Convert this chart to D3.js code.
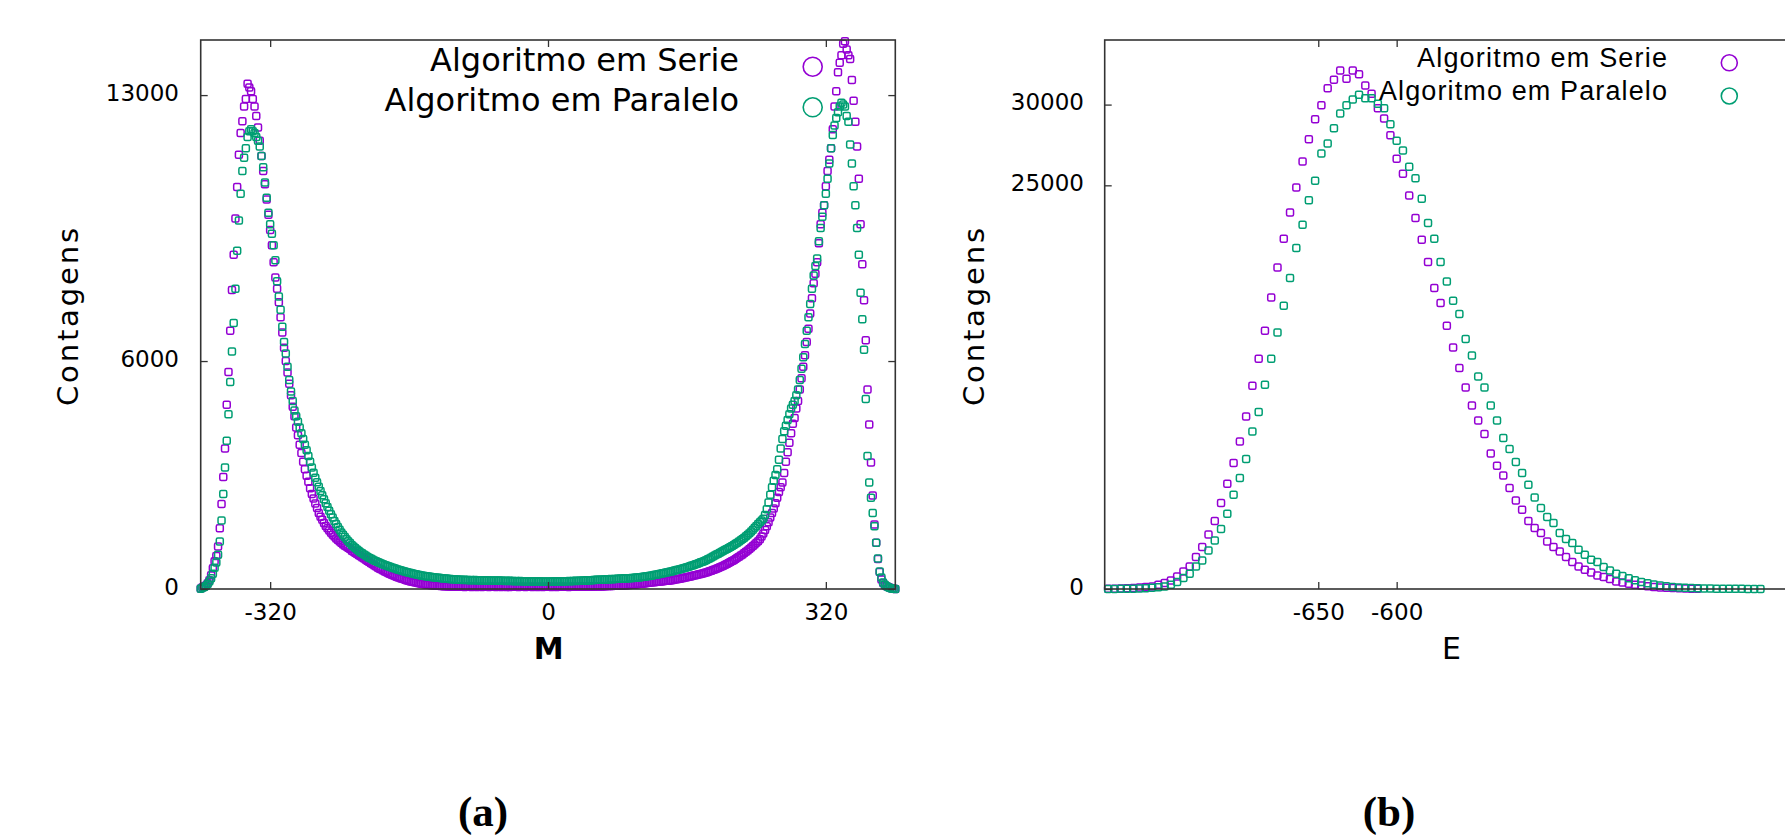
<!DOCTYPE html>
<html>
<head>
<meta charset="utf-8">
<script src="https://cdn.jsdelivr.net/npm/d3@7"></script>
<style>
  body { margin: 0; background: #fff; }
  svg { display: block; }
</style>
</head>
<body>
<script>
// ---- (a) histogram of magnetisation M, counts per M (step 2, from -400 to 400)
const magValues = d3.range(-400, 401, 2);
const magSerie = [
  10, 47, 70, 95, 150, 230, 360, 545, 730, 870,             // -400
  1120, 1600, 2240, 2950, 3700, 4850, 5710, 6800, 7870, 8800,
  9750, 10580, 11430, 12000, 12310, 12700, 12900, 13300, 13200, 13100,
  12900, 12700, 12450, 12150, 11800, 11400, 11000, 10650, 10250, 9850,
  9450, 9050, 8600, 8200, 7900, 7550, 7150, 6750, 6350, 6000, // -320
  5700, 5400, 5100, 4800, 4550, 4250, 4050, 3800, 3580, 3350,
  3150, 2980, 2820, 2650, 2500, 2380, 2250, 2130, 2000, 1900,
  1820, 1740, 1660, 1600, 1540, 1480, 1430, 1380, 1330, 1290,
  1250, 1210, 1170, 1140, 1110, 1080, 1050, 1010, 980, 950,   // -240
  920, 890, 860, 830, 800, 770, 740, 710, 680, 650,
  620, 590, 560, 535, 510, 485, 460, 440, 415, 395,
  375, 355, 335, 315, 300, 285, 270, 255, 240, 225,
  212, 200, 190, 178, 168, 158, 150, 140, 132, 125,           // -160
  118, 112, 106, 100, 96, 91, 87, 84, 80, 77,
  74, 72, 70, 68, 66, 64, 63, 62, 60, 59,
  58, 62, 55, 60, 57, 64, 52, 59, 61, 55,
  57, 60, 53, 62, 56, 58, 54, 61, 57, 59,                     // -80
  55, 60, 58, 52, 63, 57, 55, 60, 54, 58,
  61, 56, 58, 53, 60, 57, 62, 55, 58, 56,
  59, 54, 61, 57, 55, 60, 58, 53, 62, 56,
  60, 57, 55, 61, 58, 54, 60, 57, 63, 56,                     // 0
  58, 61, 55, 59, 57, 62, 56, 60, 58, 63,
  59, 64, 60, 66, 62, 65, 68, 64, 70, 67,
  72, 69, 75, 73, 78, 76, 82, 80, 86, 84,
  90, 88, 95, 93, 100, 98, 106, 104, 112, 110,                // 80
  120, 125, 130, 135, 140, 146, 152, 158, 164, 170,
  175, 180, 185, 190, 195, 200, 205, 210, 215, 220,
  225, 232, 240, 248, 256, 264, 272, 281, 290, 300,
  310, 320, 331, 342, 353, 364, 375, 386, 397, 408,           // 160
  420, 435, 450, 465, 480, 498, 516, 535, 555, 575,
  595, 615, 635, 660, 685, 710, 735, 760, 790, 820,
  850, 880, 910, 945, 980, 1015, 1050, 1090, 1130, 1170,
  1215, 1260, 1310, 1380, 1460, 1550, 1650, 1760, 1880, 2000, // 240
  2120, 2260, 2400, 2550, 2680, 2800, 3050, 3350, 3600, 3850,
  4100, 4350, 4500, 4750, 4950, 5250, 5550, 5850, 6150, 6500,
  6850, 7250, 7650, 8050, 8300, 8600, 9100, 9600, 9900, 10100,
  10600, 11000, 11300, 11600, 12100, 12700, 13100, 13600, 13850, 14050, // 320
  14350, 14420, 14200, 14050, 13950, 13400, 12850, 12300, 11650, 10800,
  9600, 8550, 7600, 6550, 5250, 4330, 3330, 2460, 1700, 1220,
  790, 450, 250, 160, 100, 70, 50, 30, 15, 8,
  0
];
const magParalelo = [
  5, 30, 50, 80, 130, 200, 280, 400, 560, 700,              // -400
  900, 1250, 1800, 2500, 3200, 3900, 4600, 5450, 6250, 7000,
  7900, 8900, 9700, 10400, 11000, 11350, 11600, 11900, 12050, 12100,
  12050, 12000, 11900, 11800, 11650, 11400, 11100, 10700, 10300, 9900,
  9600, 9350, 9050, 8650, 8100, 7700, 7350, 6900, 6500, 6200, // -320
  5850, 5500, 5200, 4950, 4700, 4550, 4400, 4250, 4100, 3950,
  3800, 3650, 3500, 3350, 3200, 3060, 2930, 2810, 2690, 2580,
  2470, 2360, 2260, 2160, 2060, 1970, 1880, 1790, 1710, 1630,
  1560, 1490, 1430, 1370, 1310, 1260, 1210, 1160, 1120, 1080, // -240
  1040, 1005, 970, 940, 910, 880, 850, 825, 800, 775,
  750, 730, 710, 690, 670, 652, 634, 617, 600, 584,
  568, 553, 538, 523, 509, 495, 481, 468, 455, 442,
  430, 418, 407, 396, 386, 376, 367, 358, 350, 342,           // -160
  335, 328, 321, 315, 309, 303, 298, 293, 288, 283,
  278, 274, 270, 266, 262, 258, 255, 252, 249, 246,
  243, 238, 245, 236, 240, 232, 238, 229, 235, 230,
  233, 226, 231, 224, 229, 222, 227, 220, 225, 218,           // -80
  223, 216, 221, 214, 219, 212, 217, 210, 215, 208,
  213, 206, 211, 204, 209, 202, 207, 200, 205, 198,
  203, 197, 202, 196, 201, 195, 200, 194, 199, 193,
  198, 194, 200, 195, 201, 196, 203, 198, 205, 200,           // 0
  207, 202, 210, 205, 213, 208, 216, 211, 220, 215,
  224, 219, 228, 224, 233, 229, 238, 235, 244, 241,
  245, 243, 250, 248, 255, 253, 260, 258, 265, 263,
  270, 268, 275, 273, 280, 278, 285, 284, 290, 290,           // 80
  295, 300, 305, 310, 316, 322, 328, 335, 342, 350,
  358, 366, 375, 384, 393, 402, 412, 422, 432, 442,
  452, 463, 474, 485, 497, 509, 521, 534, 547, 560,
  574, 588, 603, 618, 634, 650, 667, 684, 702, 720,           // 160
  740, 760, 782, 805, 830, 855, 880, 905, 930, 955,
  980, 1005, 1030, 1055, 1080, 1105, 1130, 1160, 1190, 1220,
  1250, 1280, 1315, 1350, 1390, 1430, 1470, 1515, 1560, 1610,
  1660, 1710, 1760, 1800, 1850, 1950, 2100, 2280, 2480, 2680, // 240
  2850, 3000, 3150, 3400, 3700, 3950, 4150, 4300, 4450, 4600,
  4750, 4850, 4950, 5100, 5250, 5500, 5800, 6100, 6450, 6800,
  7150, 7500, 7900, 8250, 8500, 8700, 9150, 9500, 9800, 10100,
  10400, 10800, 11200, 11600, 11950, 12200, 12400, 12550, 12700, 12800, // 320
  12750, 12700, 12450, 12300, 11700, 11200, 10600, 10100, 9500, 8800,
  7800, 7100, 6300, 5000, 3500, 2800, 2400, 2000, 1650, 1220,
  800, 460, 300, 170, 110, 70, 45, 25, 12, 5,
  0
];
const magTicks = [-320, 0, 320];
const magCountTicks = [0, 6000, 13000];

// ---- (b) histogram of energy E, counts per E (step 4)
const energySerieValues = d3.range(-784, -407, 4);
const energySerie = [
  8, 15, 25, 40, 60, 90, 120, 161, 266, 371,                  // -784
  532, 780, 1090, 1399, 1981, 2600, 3380, 4210, 5324, 6519,   // -744
  7801, 9138, 10686, 12586, 14258, 16000, 18053, 19910, 21687, 23315,
  24863, 26473, 27860, 29098, 29964, 31017, 31531, 32106, 31593, 32106, // -664
  31884, 31178, 30664, 29779, 29135, 28107, 26640, 25711, 24368, 22969,
  21625, 20245, 18635, 17706, 16301, 14958, 13682, 12481, 11367, 10438, // -584
  9596, 8395, 7633, 7033, 6253, 5485, 4909, 4210, 3776, 3467,
  2947, 2600, 2328, 1981, 1672, 1399, 1195, 1028, 842, 743,   // -504
  619, 470, 400, 330, 270, 220, 170, 130, 100, 80,
  60, 45, 30, 20, 12
];
const energyParaleloValues = d3.range(-784, -367, 4);
const energyParalelo = [
  3, 5, 8, 14, 22, 35, 50, 75, 110, 161,                      // -784
  266, 433, 681, 947, 1399, 1771, 2390, 3009, 3715, 4662,
  5838, 6872, 8048, 9757, 10958, 12648, 14258, 15886, 17539, 19254, // -704
  21111, 22554, 24083, 25278, 26968, 27587, 28541, 29444, 29964, 30311,
  30602, 30398, 30398, 30045, 29779, 28788, 27754, 27154, 26145, 25445, // -624
  24164, 22659, 21687, 20245, 19044, 17849, 17025, 15478, 14462, 13162,
  12481, 11367, 10438, 9348, 8667, 7863, 7182, 6457, 5671, 5015, // -544
  4458, 4086, 3467, 3096, 2848, 2433, 2124, 1814, 1672, 1362,
  1152, 947, 800, 660, 540, 440, 350, 280, 220, 170,          // -464
  130, 100, 80, 60, 45, 35, 25, 20, 15, 12,
  10, 8, 6, 5, 4
];
const energyTicks = [-650, -600];
const energyCountTicks = [0, 25000, 30000];

const seriesNames = ["Algoritmo em Serie", "Algoritmo em Paralelo"];
const colors = ["#9400d3", "#009e73"];

const svg = d3.select("body").append("svg")
  .attr("width", 1785)
  .attr("height", 837);
svg.append("rect").attr("width", 1785).attr("height", 837).attr("fill", "#fff");

const plotTop = 40, plotBottom = 589;
const tickFont = "'DejaVu Sans', sans-serif";

function drawPanel(p) {
  const x = d3.scaleLinear().domain(p.xDomain).range(p.xRange);
  const y = d3.scaleLinear().domain(p.yDomain).range([plotBottom, plotTop]);
  const g = svg.append("g");

  // points, serie first so paralelo ends on top
  p.series.forEach((s, k) => {
    g.append("g")
      .selectAll("rect")
      .data(s.values.map((v, i) => [s.xs[i], v]))
      .join("rect")
      .attr("x", d => x(d[0]) - 3.5)
      .attr("y", d => y(d[1]) - 3.5)
      .attr("width", 7)
      .attr("height", 7)
      .attr("rx", 1.5)
      .attr("fill", "none")
      .attr("stroke", colors[k])
      .attr("stroke-width", 1.5);
  });

  // axes with inward ticks
  const fmt = d => String(d);
  const bottom = g.append("g")
    .attr("transform", "translate(0," + plotBottom + ")")
    .call(d3.axisBottom(x).tickValues(p.xTicks).tickFormat(fmt).tickSize(-7).tickPadding(14.5));
  const top = g.append("g")
    .attr("transform", "translate(0," + plotTop + ")")
    .call(d3.axisTop(x).tickValues(p.xTicks).tickFormat("").tickSize(-7));
  const left = g.append("g")
    .attr("transform", "translate(" + p.xRange[0] + ",0)")
    .call(d3.axisLeft(y).tickValues(p.yTicks).tickFormat(fmt).tickSize(-7).tickPadding(p.yPad));
  const right = g.append("g")
    .attr("transform", "translate(" + p.xRange[1] + ",0)")
    .call(d3.axisRight(y).tickValues(p.yTicks).tickFormat("").tickSize(-7));

  [bottom, top, left, right].forEach(a => {
    a.select(".domain").remove();
    a.selectAll("line").attr("stroke", "#333").attr("stroke-width", 1.3);
    a.selectAll("text")
      .attr("fill", "#000")
      .style("font-family", tickFont)
      .style("font-size", "23px");
  });
  left.selectAll("text").attr("dy", "0.22em");

  // frame
  g.append("rect")
    .attr("x", p.xRange[0])
    .attr("y", plotTop)
    .attr("width", p.xRange[1] - p.xRange[0])
    .attr("height", plotBottom - plotTop)
    .attr("fill", "none")
    .attr("stroke", "#333")
    .attr("stroke-width", 1.6);

  // axis titles
  g.append("text")
    .attr("transform", "translate(" + p.yLabelX + ",317) rotate(-90)")
    .attr("text-anchor", "middle")
    .attr("textLength", 178)
    .style("font-family", tickFont)
    .style("font-size", "29px")
    .text("Contagens");

  g.append("text")
    .attr("x", p.xLabelX)
    .attr("y", 659)
    .attr("text-anchor", "middle")
    .style("font-family", tickFont)
    .style("font-size", "30px")
    .style("font-weight", p.xLabelBold ? "bold" : "normal")
    .text(p.xLabel);

  g.append("text")
    .attr("x", p.panelX)
    .attr("y", 826)
    .attr("text-anchor", "middle")
    .style("font-family", "'Liberation Serif', serif")
    .style("font-weight", "bold")
    .style("font-size", "43px")
    .text(p.panelName);

  // legend
  const lg = p.legend;
  seriesNames.forEach((name, k) => {
    const t = g.append("text")
      .attr("x", lg.textRight)
      .attr("y", lg.baselines[k])
      .attr("text-anchor", "end")
      .style("font-family", lg.font)
      .style("font-size", lg.size + "px")
      .text(name);
    if (lg.lengths) t.attr("textLength", lg.lengths[k]);
    g.append("circle")
      .attr("cx", lg.markX)
      .attr("cy", lg.markYs[k])
      .attr("r", lg.r)
      .attr("fill", "none")
      .attr("stroke", colors[k])
      .attr("stroke-width", 1.6);
  });
}

drawPanel({
  xDomain: [-400, 400], xRange: [200.7, 895.3],
  yDomain: [0, 14450],
  xTicks: magTicks, yTicks: magCountTicks, yPad: 21.7,
  series: [
    { xs: magValues, values: magSerie },
    { xs: magValues, values: magParalelo }
  ],
  yLabelX: 78, xLabel: "M", xLabelBold: true, xLabelX: 548.6,
  panelName: "(a)", panelX: 483,
  legend: {
    font: "'DejaVu Sans', sans-serif", size: 32, textRight: 739,
    baselines: [70.7, 111], markX: 812.7, markYs: [66.7, 107.3], r: 9.5
  }
});

drawPanel({
  xDomain: [-786.2, -344.5], xRange: [1104.7, 1797.3],
  yDomain: [0, 34000],
  xTicks: energyTicks, yTicks: energyCountTicks, yPad: 20.7,
  series: [
    { xs: energySerieValues, values: energySerie },
    { xs: energyParaleloValues, values: energyParalelo }
  ],
  yLabelX: 984, xLabel: "E", xLabelBold: false, xLabelX: 1451.4,
  panelName: "(b)", panelX: 1389,
  legend: {
    font: "'Liberation Sans', sans-serif", size: 27, textRight: 1667,
    baselines: [67.3, 100], lengths: [250, 288],
    markX: 1729.3, markYs: [62.8, 96], r: 8
  }
});
</script>
</body>
</html>
